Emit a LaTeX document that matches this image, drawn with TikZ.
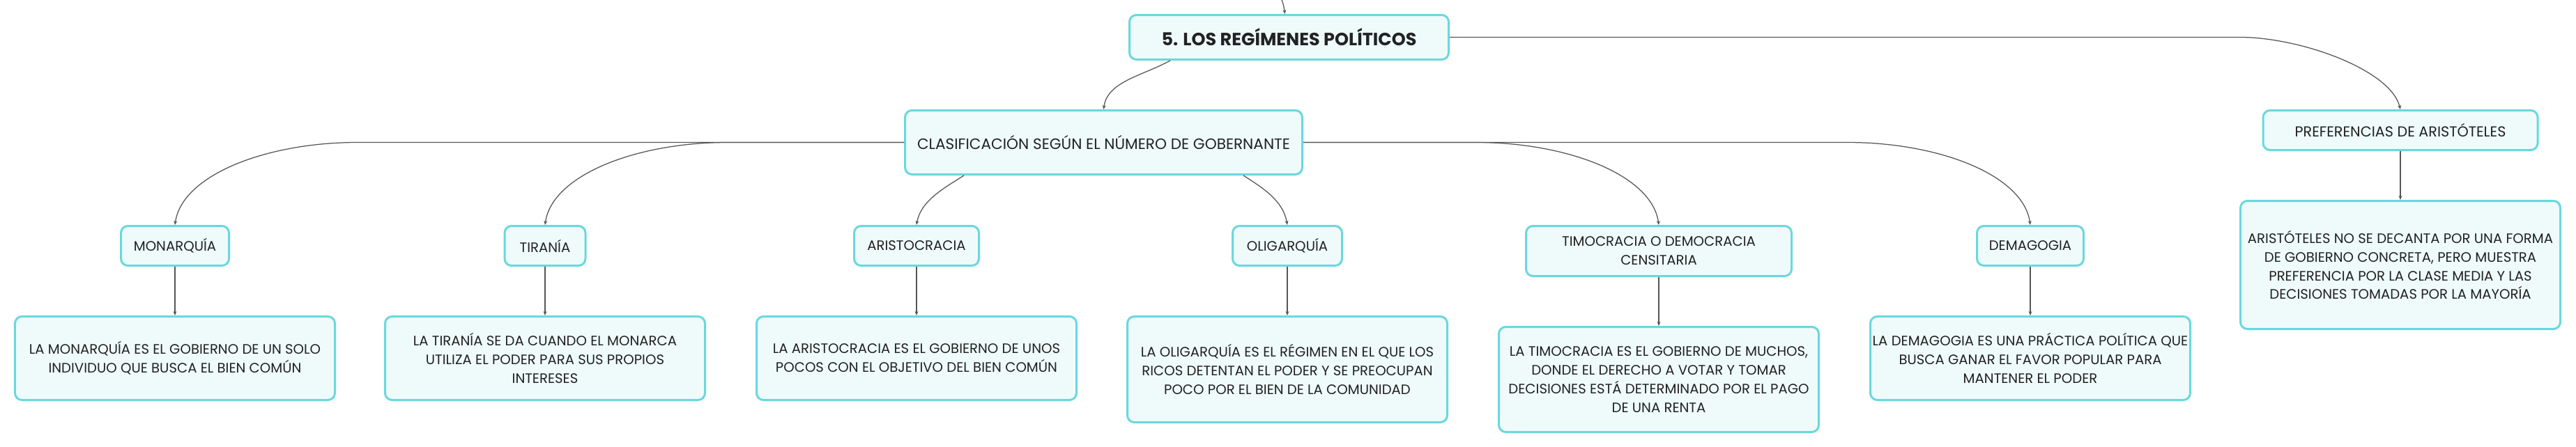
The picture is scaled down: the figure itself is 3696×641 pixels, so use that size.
\documentclass[tikz,border=0pt]{standalone}
\usepackage{fontspec}
\setmainfont{Poppins}
\usetikzlibrary{positioning, arrows.meta, calc}
\definecolor{mapborder}{HTML}{6AD8DD}
\definecolor{mapfill}{HTML}{EFFBFB}
\definecolor{mapline}{HTML}{555555}
\definecolor{maptext}{HTML}{222222}
\tikzstyle{topic} = [rectangle, rounded corners=2mm, draw=mapborder, line width=0.6mm, fill=mapfill, text=maptext, align=center, inner xsep=0.3mm, inner ysep=1mm, font=\fontsize{11.2}{15.3}\selectfont]
\tikzstyle{rootbox} = [topic, font=\fontsize{14.5}{17}\selectfont\bfseries]
\tikzstyle{leaf} = [topic, minimum width=91.8mm, minimum height=24mm]
\tikzstyle{arrow} = [draw=mapline, line width=0.25mm, -{Stealth[length=1.2mm,width=1mm]}]

\begin{document}
\begin{tikzpicture}[x=0.2mm, y=-0.2mm, node distance=14mm]

\useasboundingbox (0,0) rectangle (3696,641);

\node at (1849.5, 53.5) (root) [rootbox, minimum width=91.6mm, minimum height=12.8mm] {5. LOS REGÍMENES POLÍTICOS};
\node at (1583.5, 204.5) (clasif) [topic, minimum width=114mm, minimum height=18.4mm, font=\fontsize{12.3}{15.3}\selectfont] {CLASIFICACIÓN SEGÚN EL NÚMERO DE GOBERNANTE};
\node at (3444, 187) (pref) [topic, minimum width=78.8mm, minimum height=11.4mm, font=\fontsize{11.8}{15.3}\selectfont] {PREFERENCIAS DE ARISTÓTELES};
\coordinate (rootParent) at (1822, -40);

\node at (251, 323) (monarquia) [topic, anchor=north, minimum width=31mm, minimum height=11.4mm] {MONARQUÍA};
\node at (782, 323) (tirania) [topic, anchor=north, minimum width=23.2mm, minimum height=11.4mm] {TIRANÍA};
\node at (1315, 323) (aristocracia) [topic, anchor=north, minimum width=35.8mm, minimum height=11.4mm] {ARISTOCRACIA};
\node at (1847, 323) (oligarquia) [topic, anchor=north, minimum width=31.4mm, minimum height=11.4mm] {OLIGARQUÍA};
\node at (2380, 323) (timocracia) [topic, anchor=north, minimum width=76.2mm, minimum height=14.4mm] {TIMOCRACIA O DEMOCRACIA\\CENSITARIA};
\node at (2913, 323) (demagogia) [topic, anchor=north, minimum width=30.6mm, minimum height=11.4mm] {DEMAGOGIA};

\node (monarquiaText) [leaf, below=of monarquia] {LA MONARQUÍA ES EL GOBIERNO DE UN SOLO\\INDIVIDUO QUE BUSCA EL BIEN COMÚN};
\node (tiraniaText) [leaf, below=of tirania] {LA TIRANÍA SE DA CUANDO EL MONARCA\\UTILIZA EL PODER PARA SUS PROPIOS\\INTERESES};
\node (aristocraciaText) [leaf, below=of aristocracia] {LA ARISTOCRACIA ES EL GOBIERNO DE UNOS\\POCOS CON EL OBJETIVO DEL BIEN COMÚN};
\node (oligarquiaText) [leaf, below=of oligarquia, minimum height=30.4mm] {LA OLIGARQUÍA ES EL RÉGIMEN EN EL QUE LOS\\RICOS DETENTAN EL PODER Y SE PREOCUPAN\\POCO POR EL BIEN DE LA COMUNIDAD};
\node (timocraciaText) [leaf, below=of timocracia, minimum height=30.2mm] {LA TIMOCRACIA ES EL GOBIERNO DE MUCHOS,\\DONDE EL DERECHO A VOTAR Y TOMAR\\DECISIONES ESTÁ DETERMINADO POR EL PAGO\\DE UNA RENTA};
\node (demagogiaText) [leaf, below=of demagogia] {LA DEMAGOGIA ES UNA PRÁCTICA POLÍTICA QUE\\BUSCA GANAR EL FAVOR POPULAR PARA\\MANTENER EL PODER};
\node (prefText) [leaf, below=of pref, minimum height=36.8mm] {ARISTÓTELES NO SE DECANTA POR UNA FORMA\\DE GOBIERNO CONCRETA, PERO MUESTRA\\PREFERENCIA POR LA CLASE MEDIA Y LAS\\DECISIONES TOMADAS POR LA MAYORÍA};

\draw [arrow] (rootParent) .. controls +(10,30) and +(-3,-25) .. ($(root.north)+(-6,0)$);
\draw [arrow] ($(root.south west)+(60,0)$) .. controls +(-40,22) and +(5,-40) .. (clasif.north);
\draw [arrow] (root.east) -- ($(pref.north |- root.east)+(-230,0)$) .. controls +(86,0) and +(-14,-57) .. (pref.north);

\draw [arrow] (clasif.west) -- ($(monarquia.north |- clasif.west)+(262,0)$) .. controls +(-130,0) and +(10,-72) .. (monarquia.north);
\draw [arrow] (clasif.west) -- ($(tirania.north |- clasif.west)+(262,0)$) .. controls +(-130,0) and +(10,-72) .. (tirania.north);
\draw [arrow] ($(clasif.south west)+(86,0)$) .. controls +(-28,18) and +(6,-35) .. (aristocracia.north);
\draw [arrow] ($(clasif.south east)+(-86,0)$) .. controls +(28,18) and +(-6,-35) .. (oligarquia.north);
\draw [arrow] (clasif.east) -- ($(timocracia.north |- clasif.east)+(-262,0)$) .. controls +(130,0) and +(-10,-72) .. (timocracia.north);
\draw [arrow] (clasif.east) -- ($(demagogia.north |- clasif.east)+(-262,0)$) .. controls +(130,0) and +(-10,-72) .. (demagogia.north);

\draw [arrow] (monarquia) -- (monarquiaText);
\draw [arrow] (tirania) -- (tiraniaText);
\draw [arrow] (aristocracia) -- (aristocraciaText);
\draw [arrow] (oligarquia) -- (oligarquiaText);
\draw [arrow] (timocracia) -- (timocraciaText);
\draw [arrow] (demagogia) -- (demagogiaText);
\draw [arrow] (pref) -- (prefText);

\end{tikzpicture}
\end{document}
